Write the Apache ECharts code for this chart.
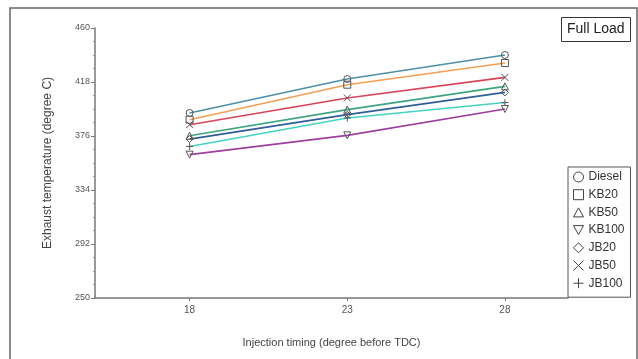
<!DOCTYPE html>
<html>
<head>
<meta charset="utf-8">
<script src="https://cdn.jsdelivr.net/npm/echarts@6/dist/echarts.min.js"></script>
<style>
html,body{margin:0;padding:0;background:#fff;}
#chart{width:638px;height:359px;}
</style>
</head>
<body>
<div id="chart"></div>
<script>
// Data
const injectionTiming = [18, 23, 28];
const yTicks = [250, 292, 334, 376, 418, 460];
const seriesNames = ['Diesel', 'KB20', 'KB50', 'KB100', 'JB20', 'JB50', 'JB100'];
const diesel = [393.9, 420.3, 439.0];
const kb20   = [388.7, 415.9, 432.8];
const kb50   = [376.2, 396.5, 414.6];
const kb100  = [361.5, 376.5, 397.0];
const jb20   = [373.6, 392.6, 409.9];
const jb50   = [384.8, 405.6, 421.6];
const jb100  = [367.9, 390.0, 402.0];

const dataByName = {Diesel: diesel, KB20: kb20, KB50: kb50, KB100: kb100, JB20: jb20, JB50: jb50, JB100: jb100};

// Styles
const lineColors = {Diesel:'#4b90a6', KB20:'#f3a055', KB50:'#3da67e', KB100:'#9c3f9f', JB20:'#2f5e98', JB50:'#d9435a', JB100:'#46d3c1'};
const symbols = {
  Diesel: 'circle',
  KB20: 'rect',
  KB50: 'path://M5,0L10,9L0,9Z',
  KB100: 'path://M0,0L10,0L5,9Z',
  JB20: 'diamond',
  JB50: 'path://M0,0L10,10M10,0L0,10',
  JB100: 'path://M5,0L5,10M0,5L10,5'
};
const markColor = '#555';

const minorTicks = [];
for (let i = 0; i < yTicks.length - 1; i++) {
  const step = (yTicks[i+1] - yTicks[i]) / 4;
  for (let k = 1; k < 4; k++) minorTicks.push(yTicks[i] + step * k);
}

const chart = echarts.init(document.getElementById('chart'));
const font = 'Liberation Sans, Arial, sans-serif';

const series = seriesNames.map(n => ({
  name: n,
  type: 'line',
  data: injectionTiming.map((x, i) => [x, dataByName[n][i]]),
  symbol: symbols[n],
  symbolSize: 7,
  showSymbol: true,
  lineStyle: {color: lineColors[n], width: 1.6},
  itemStyle: {color: 'rgba(0,0,0,0)', borderColor: markColor, borderWidth: 1},
  emphasis: {disabled: true},
  animation: false
}));

chart.setOption({
  backgroundColor: '#fff',
  animation: false,
  textStyle: {fontFamily: font},
  title: {
    text: 'Full Load',
    left: 561, top: 17,
    borderColor: '#333', borderWidth: 1,
    padding: [5, 6],
    textStyle: {fontSize: 14, fontWeight: 'normal', color: '#222', fontFamily: font, lineHeight: 15}
  },
  legend: {
    orient: 'vertical',
    left: 568, top: 167,
    borderColor: '#555', borderWidth: 1,
    padding: [4, 6, 8, 5],
    itemWidth: 10, itemHeight: 10,
    itemGap: 5.7,
    itemStyle: {color: '#fff', borderColor: '#444', borderWidth: 1},
    textStyle: {fontSize: 12, color: '#333', fontFamily: font, lineHeight: 11},
    data: seriesNames.map(n => ({name: n, icon: symbols[n]})),
    selectedMode: false
  },
  grid: {left: 95, right: 70, top: 28, bottom: 61},
  xAxis: {
    type: 'value', min: 15, max: 30,
    name: 'Injection timing (degree before TDC)',
    nameLocation: 'middle', nameGap: 39,
    nameTextStyle: {fontSize: 11, color: '#444', fontFamily: font},
    axisLine: {lineStyle: {color: '#777', width: 1.5}},
    axisTick: {show: true, length: 3, lineStyle: {color: '#777'}, customValues: injectionTiming},
    axisLabel: {fontSize: 10, color: '#555', margin: 7, customValues: injectionTiming},
    splitLine: {show: false}
  },
  yAxis: [{
    type: 'value', min: yTicks[0], max: yTicks[yTicks.length - 1],
    name: 'Exhaust temperature (degree C)',
    nameLocation: 'middle', nameGap: 41, nameRotate: 90,
    nameTextStyle: {fontSize: 12, color: '#444', fontFamily: font},
    axisLine: {show: true, lineStyle: {color: '#777', width: 1.5}},
    axisTick: {show: true, length: 4, lineStyle: {color: '#777'}, customValues: yTicks},
    axisLabel: {fontSize: 9, color: '#555', margin: 5, customValues: yTicks},
    splitLine: {show: false}
  }, {
    type: 'value', min: yTicks[0], max: yTicks[yTicks.length - 1],
    position: 'left',
    axisLine: {show: false},
    axisTick: {show: true, length: 2, lineStyle: {color: '#999'}, customValues: minorTicks},
    axisLabel: {show: false},
    splitLine: {show: false}
  }],
  graphic: [{
    type: 'rect', z: -10, silent: true,
    shape: {x: 10, y: 8, width: 627, height: 370},
    style: {fill: 'none', stroke: '#666', lineWidth: 1.5}
  }],
  series: series
});
</script>
</body>
</html>
